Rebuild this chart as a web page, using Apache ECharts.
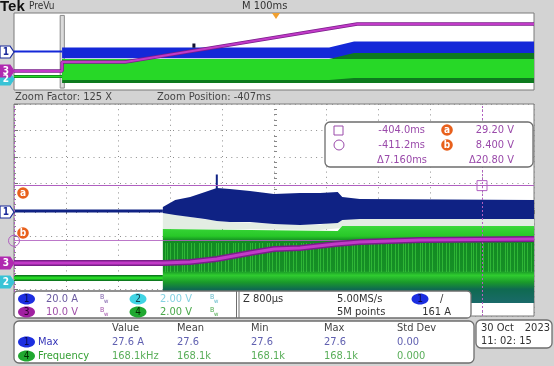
<!DOCTYPE html>
<html><head><meta charset="utf-8">
<script src="https://cdn.jsdelivr.net/npm/echarts@6/dist/echarts.min.js"></script>
<style>html,body{margin:0;padding:0;background:#d3d3d3;}#c{width:554px;height:366px;}</style>
</head><body><div id="c"></div>
<script>
// ---------- vertical scales (units / division) and offsets (divisions) ----------
const ch1Scale = 20, ch3Scale = 10, ch4Scale = 2;
const ovCh1Off = 0, ovCh3Off = -2.026, ovCh4Off = -2.6;
const zmCh1Off = -0.04, zmCh3Off = -2.0, zmCh4Off = -2.566;

// ---------- time ranges (ms) ----------
const ovTime = [-500, 500];        // M 100ms
const zmTime = [-411.2, -403.2];   // Z 800us
const zoomWindow = [-411.2, -403.2];
const triggerTime = 0;

// ---------- overview (PreVu) traces ----------
const ovCh1PreT = [-500, -407.5];
const ovCh1PreA = [0, 0];
const ovCh1BandT = [-407.5, 106, 154, 500];
const ovCh1BandHiA = [8.3, 8.3, 20.8, 20.8];
const ovCh1BandLoA = [-14, -14, -14, -14];
const ovCh1MarkT = [-154, -154];
const ovCh1MarkA = [8, 16.6];

const ovCh4PreT = [-500, -407.5];
const ovCh4PreV = [0, 0];
const ovCh4DarkT = [-407.5, 106, 154, 500];
const ovCh4DarkHiV = [3.64, 3.64, 4.88, 4.88];
const ovCh4DarkLoV = [-1.35, -1.35, -1.35, -1.35];
const ovCh4BrightT = [-407.5, 106, 154, 500];
const ovCh4BrightHiV = [3.64, 3.64, 3.64, 3.64];
const ovCh4BrightLoV = [-0.73, -0.73, -0.31, -0.31];

const ovCh3T = [-500, -407.5, -407.5, -286, 160, 500];
const ovCh3V = [0, 0, 9.4, 9.4, 48.8, 48.8];

// ---------- zoom traces ----------
const zmCh1PreT = [-411.2, -408.91];
const zmCh1PreA = [0, 0];
const zmCh1BandT = [-408.91, -408.72, -408.49, -408.26, -408.08, -407.88, -407.57, -407.20, -406.80, -406.49, -406.22, -406.15, -405.88, -403.2];
const zmCh1BandHiA = [3.0, 8.3, 10.6, 14.3, 17.4, 16.6, 15.1, 12.8, 13.6, 13.6, 14.3, 10.6, 9.1, 8.3];
const zmCh1BandLoA = [-1.5, -3.0, -4.5, -6.0, -7.5, -8.3, -8.3, -9.8, -10.6, -9.8, -9.1, -6.8, -6.0, -6.0];
const zmCh1SpikeT = [-408.08, -408.08];
const zmCh1SpikeA = [15, 27.6];

const zmCh4PreT = [-411.2, -408.91];
const zmCh4PreV = [0, 0];
const zmCh4BandT = [-408.91, -406.22, -406.15, -403.2];
const zmCh4BandHiV = [3.70, 3.55, 3.92, 3.92];
const zmCh4BandLoV = [-1.89, -1.89, -1.89, -1.89];
const zmCh4StripeT = [-408.91, -403.2];
const zmCh4StripeHiV = [2.64, 2.64];
const zmCh4StripeLoV = [0.45, 0.45];
const zmHazeT = [-408.91, -408.3, -407.9, -406.5, -406.15, -403.2];
const zmHazeHiV = [4.98, 4.45, 4.23, 4.0, 4.45, 4.45];
const zmHazeLoV = [3.70, 3.70, 3.70, 3.62, 3.77, 3.77];

const zmCh3T = [-411.2, -408.91, -408.49, -408.08, -407.57, -407.20, -406.80, -406.25, -405.88, -404.95, -403.2];
const zmCh3V = [0, 0, 0.38, 1.5, 3.8, 5.3, 5.7, 7.2, 7.9, 8.7, 9.1];

// ---------- cursors ----------
const cursorTimes = [-404.0, -411.2];   // ms
const cursorLevels = [29.20, 8.40];     // V (ch3)

// ---------- readout texts ----------
const measHeaders = ['Value', 'Mean', 'Min', 'Max', 'Std Dev'];
const measRow1 = ['27.6 A', '27.6', '27.6', '27.6', '0.00'];
const measRow2 = ['168.1kHz', '168.1k', '168.1k', '168.1k', '0.000'];

// ---------- helpers ----------
const F = "'DejaVu Sans Condensed','Liberation Sans Narrow',sans-serif";
const pts = (T, V, s, o) => T.map((t, i) => [t, V[i] / s + o]);

function band(xi, T, lo, hi, s, o, fill, z) {
  const data = T.map((t, i) => [t, lo[i] / s + o, hi[i] / s + o]);
  return {
    type: 'custom', xAxisIndex: xi, yAxisIndex: xi, z, silent: true, clip: true,
    encode: { x: 0, y: [1, 2] }, data,
    renderItem(params, api) {
      if (params.dataIndex !== 0) return null;
      const top = data.map(d => api.coord([d[0], d[2]]));
      const bot = data.map(d => api.coord([d[0], d[1]])).reverse();
      return { type: 'polygon', shape: { points: top.concat(bot) }, style: { fill } };
    }
  };
}
function line(xi, data, color, width, z, extra) {
  return Object.assign({
    type: 'line', xAxisIndex: xi, yAxisIndex: xi, data, showSymbol: false, symbol: 'none',
    silent: true, z, lineStyle: { color, width }, animation: false
  }, extra || {});
}
function txt(x, y, s, fill, size, align, weight) {
  return { type: 'text', z: 100, style: { x, y, text: s, fill, textAlign: align || 'left', textVerticalAlign: 'middle',
    font: (weight ? weight + ' ' : '') + (size || 11) + 'px ' + F } };
}
function tag(y, label, fill, stroke, tcolor) {
  return [
    { type: 'polygon', z: 90, shape: { points: [[0, y - 6], [10, y - 6], [14, y], [10, y + 6], [0, y + 6]] },
      style: { fill, stroke, lineWidth: 1.2 } },
    { type: 'text', z: 91, style: { x: 6, y, text: label, fill: tcolor, textAlign: 'center', textVerticalAlign: 'middle', font: 'bold 10px ' + F } }
  ];
}
function chip(cx, cy, label, fill, tcolor) {
  return [
    { type: 'ellipse', z: 100, shape: { cx, cy, rx: 8.5, ry: 5.5 }, style: { fill } },
    { type: 'text', z: 101, style: { x: cx, y: cy, text: label, fill: tcolor, textAlign: 'center', textVerticalAlign: 'middle', font: '10px ' + F } }
  ];
}
function orange(cx, cy, label) {
  return [
    { type: 'circle', z: 95, shape: { cx, cy, r: 5.8 }, style: { fill: '#e8601c' } },
    { type: 'text', z: 96, style: { x: cx, y: cy, text: label, fill: '#fff', textAlign: 'center', textVerticalAlign: 'middle', font: 'bold 10px ' + F } }
  ];
}
function bw(x, y, color) {
  return [txt(x, y - 2, 'B', color, 7), txt(x + 4, y + 2, 'w', color, 6)];
}
function box(x, y, w, h, r) {
  return { type: 'rect', z: 80, shape: { x, y, width: w, height: h, r: r || 4 }, style: { fill: '#fff', stroke: '#6e6e6e', lineWidth: 1.3 } };
}
// vertical stripe texture for the switching-noise band (style only)
function stripePattern() {
  const c = document.createElement('canvas');
  c.width = 17; c.height = 4;
  const g = c.getContext('2d');
  g.fillStyle = 'rgba(70,215,70,0.55)';
  [0, 4, 7, 12, 14].forEach(x => g.fillRect(x, 0, 1, 4));
  return { image: c, repeat: 'repeat' };
}

const aDiv = cursorLevels[0] / ch3Scale + zmCh3Off;
const bDiv = cursorLevels[1] / ch3Scale + zmCh3Off;

const navy = '#0f2284', blue = '#1428d8', brightG = '#27d827', darkG = '#0d7a1e', mag = '#c23ac8', magDark = '#7a1e8a', cur = '#b060c0';

const greenGrad = new echarts.graphic.LinearGradient(0, 0, 0, 1, [
  { offset: 0, color: '#3ad83a' }, { offset: 0.13, color: '#28c828' }, { offset: 0.19, color: '#128a22' },
  { offset: 0.58, color: '#168f26' }, { offset: 0.64, color: '#2fcc2f' }, { offset: 0.73, color: '#1a9a2a' },
  { offset: 0.82, color: '#0f6a50' }, { offset: 1, color: '#1a6a6a' }]);

const series = [
  // overview
  line(0, pts(ovCh1PreT, ovCh1PreA, ch1Scale, ovCh1Off), blue, 2, 3),
  band(0, ovCh1BandT, ovCh1BandLoA, ovCh1BandHiA, ch1Scale, ovCh1Off, blue, 3),
  band(0, ovCh4DarkT, ovCh4DarkLoV, ovCh4DarkHiV, ch4Scale, ovCh4Off, darkG, 4),
  band(0, ovCh4BrightT, ovCh4BrightLoV, ovCh4BrightHiV, ch4Scale, ovCh4Off, brightG, 5),
  line(0, pts(ovCh4PreT, ovCh4PreV, ch4Scale, ovCh4Off), darkG, 3, 4),
  line(0, pts(ovCh4PreT, ovCh4PreV, ch4Scale, ovCh4Off), brightG, 1.5, 5),
  line(0, pts(ovCh1MarkT, ovCh1MarkA, ch1Scale, ovCh1Off), '#101030', 3, 6),
  line(0, pts(ovCh3T, ovCh3V, ch3Scale, ovCh3Off), magDark, 3.5, 6),
  line(0, pts(ovCh3T, ovCh3V, ch3Scale, ovCh3Off), mag, 2, 7, {
    markArea: { silent: true, itemStyle: { color: 'rgba(190,190,190,0.55)', borderColor: '#8a8a8a', borderWidth: 1 },
      data: [[{ xAxis: zoomWindow[0], yAxis: 3.75 }, { xAxis: zoomWindow[1], yAxis: -3.8 }]] },
    markPoint: { silent: true, animation: false, data: [{ coord: [triggerTime, 4], symbol: 'triangle', symbolRotate: 180,
      symbolSize: [8, 6], symbolOffset: [2, 3], itemStyle: { color: '#f0a030' }, label: { show: false } }] }
  }),
  // zoom
  band(1, zmHazeT, zmHazeLoV, zmHazeHiV, ch4Scale, zmCh4Off, '#e3ede3', 2),
  line(1, pts(zmCh1PreT, zmCh1PreA, ch1Scale, zmCh1Off), navy, 3, 3),
  band(1, zmCh1BandT, zmCh1BandLoA, zmCh1BandHiA, ch1Scale, zmCh1Off, navy, 3),
  line(1, pts(zmCh1SpikeT, zmCh1SpikeA, ch1Scale, zmCh1Off), navy, 2, 3),
  band(1, zmCh4BandT, zmCh4BandLoV, zmCh4BandHiV, ch4Scale, zmCh4Off, greenGrad, 4),
  band(1, zmCh4StripeT, zmCh4StripeLoV, zmCh4StripeHiV, ch4Scale, zmCh4Off, stripePattern(), 4.5),
  line(1, pts(zmCh4PreT, zmCh4PreV, ch4Scale, zmCh4Off), darkG, 6, 4),
  line(1, pts(zmCh4PreT, zmCh4PreV, ch4Scale, zmCh4Off), brightG, 3, 5),
  line(1, pts(zmCh3T, zmCh3V, ch3Scale, zmCh3Off), magDark, 6, 6),
  line(1, pts(zmCh3T, zmCh3V, ch3Scale, zmCh3Off), mag, 3, 7, {
    markLine: { silent: true, symbol: 'none', animation: false, label: { show: false },
      lineStyle: { color: cur, width: 1, type: 'solid' },
      data: [{ yAxis: aDiv }, { yAxis: bDiv, lineStyle: { color: cur, width: 1, opacity: 0.85 } },
        { xAxis: cursorTimes[0], lineStyle: { color: cur, type: [2, 2], width: 1 } },
        { xAxis: cursorTimes[1], lineStyle: { color: cur, type: [2, 2], width: 1 } }] },
    markPoint: { silent: true, animation: false, label: { show: false },
      data: [
        { coord: [cursorTimes[0], aDiv], symbol: 'rect', symbolSize: 10, itemStyle: { color: 'rgba(255,255,255,0)', borderColor: cur, borderWidth: 1 } },
        { coord: [cursorTimes[1], bDiv], symbol: 'circle', symbolSize: 11, itemStyle: { color: 'rgba(255,255,255,0)', borderColor: cur, borderWidth: 1 } }] }
  })
];

const dotX = { type: [1, 4.2], color: '#8e8e8e', width: 1 };
const dotY = { type: [1, 4.3], color: '#8e8e8e', width: 1 };
const hid = { axisLabel: { show: false }, axisLine: { show: false }, axisTick: { show: false }, splitLine: { show: false } };

const graphics = [
  { type: 'text', z: 100, style: { x: 0, y: 7, text: 'Tek', fill: '#111', textVerticalAlign: 'middle', font: 'bold 15px "Liberation Sans"' } },
  txt(29, 6, 'PreVu', '#333', 10),
  txt(242, 6, 'M 100ms', '#333', 11),
  txt(15, 97, 'Zoom Factor: 125 X', '#444', 11),
  txt(157, 97, 'Zoom Position: -407ms', '#444', 11),
  ...tag(79, '2', '#39c3d6', '#39c3d6', '#fff'),
  ...tag(71, '3', '#b02ab0', '#b02ab0', '#fff'),
  ...tag(52, '1', '#fff', '#1a2a9a', '#1a2a9a'),
  ...tag(282, '2', '#39c3d6', '#39c3d6', '#fff'),
  ...tag(263, '3', '#b02ab0', '#b02ab0', '#fff'),
  ...tag(212, '1', '#fff', '#1a2a9a', '#1a2a9a'),
  ...orange(23, 193, 'a'), ...orange(23, 233, 'b'),
  // cursor readout
  box(325, 122, 208, 45, 5),
  { type: 'rect', z: 100, shape: { x: 334, y: 126, width: 9, height: 9 }, style: { fill: 'none', stroke: '#9a4aaa', lineWidth: 1 } },
  { type: 'circle', z: 100, shape: { cx: 339, cy: 145, r: 5 }, style: { fill: 'none', stroke: '#9a4aaa', lineWidth: 1 } },
  txt(425, 130, '-404.0ms', '#9a4aaa', 11, 'right'),
  txt(425, 145, '-411.2ms', '#9a4aaa', 11, 'right'),
  txt(427, 160, '\u03947.160ms', '#9a4aaa', 11, 'right'),
  ...orange(447, 130, 'a'), ...orange(447, 145, 'b'),
  txt(514, 130, '29.20 V', '#9a4aaa', 11, 'right'),
  txt(514, 145, '8.400 V', '#9a4aaa', 11, 'right'),
  txt(514, 160, '\u039420.80 V', '#9a4aaa', 11, 'right'),
  // channel / timebase readout
  box(14, 291, 457, 27, 4),
  { type: 'line', z: 101, shape: { x1: 236.5, y1: 291, x2: 236.5, y2: 318 }, style: { stroke: '#6e6e6e', lineWidth: 1 } },
  { type: 'line', z: 101, shape: { x1: 239, y1: 291, x2: 239, y2: 318 }, style: { stroke: '#6e6e6e', lineWidth: 1 } },
  ...chip(26.5, 299, '1', '#1c2ee0', '#0a0a50'),
  txt(46, 299, '20.0 A', '#6a5aa0', 11), ...bw(100, 299, '#7a5aa8'),
  ...chip(138, 299, '2', '#40d4e4', '#10404c'),
  txt(160, 299, '2.00 V', '#86d2e2', 11), ...bw(210, 299, '#60b8c8'),
  ...chip(26.5, 312, '3', '#a020a0', '#300030'),
  txt(46, 312, '10.0 V', '#a050a8', 11), ...bw(100, 312, '#a050a8'),
  ...chip(138, 312, '4', '#20a830', '#002a00'),
  txt(160, 312, '2.00 V', '#4aa84a', 11), ...bw(210, 312, '#4aa84a'),
  txt(243, 299, 'Z 800\u00b5s', '#333', 11),
  txt(337, 299, '5.00MS/s', '#333', 11),
  txt(337, 312, '5M points', '#333', 11),
  ...chip(420, 299, '1', '#1c2ee0', '#0a0a50'),
  txt(440, 299, '/', '#333', 11),
  txt(451, 312, '161 A', '#333', 11, 'right'),
  // measurements
  box(14, 321, 460, 42, 5),
  ...measHeaders.map((h, i) => txt([112, 177, 251, 324, 397][i], 328, h, '#444', 11)),
  ...chip(26.5, 342, '1', '#1c2ee0', '#0a0a50'),
  txt(38, 342, 'Max', '#3535b8', 11),
  ...measRow1.map((v, i) => txt([112, 177, 251, 324, 397][i], 342, v, '#6060b0', 11)),
  ...chip(26.5, 356, '4', '#20a830', '#002a00'),
  txt(38, 356, 'Frequency', '#35a035', 11),
  ...measRow2.map((v, i) => txt([112, 177, 251, 324, 397][i], 356, v, '#5aae5a', 11)),
  // date
  box(476, 320, 76, 28, 5),
  txt(481, 328, '30 Oct', '#333', 11),
  txt(550, 328, '2023', '#333', 11, 'right'),
  txt(481, 341, '11: 02: 15', '#333', 11)
];

const chart = echarts.init(document.getElementById('c'), null, { renderer: 'canvas' });
chart.setOption({
  animation: false,
  backgroundColor: '#d3d3d3',
  grid: [
    { left: 14, top: 13, width: 520, height: 77, show: true, backgroundColor: '#fff', borderColor: '#7a7a7a', borderWidth: 1 },
    { left: 14, top: 104, width: 520, height: 212, show: true, backgroundColor: '#fff', borderColor: '#7a7a7a', borderWidth: 1 }
  ],
  xAxis: [
    Object.assign({ type: 'value', gridIndex: 0, min: ovTime[0], max: ovTime[1], interval: 100 }, hid),
    { type: 'value', gridIndex: 1, min: zmTime[0], max: zmTime[1], interval: 0.8, position: 'top',
      axisLabel: { show: false }, axisLine: { show: false },
      axisTick: { show: true, inside: true, length: 4, lineStyle: { color: '#777' } },
      minorTick: { show: true, splitNumber: 5, length: 2, lineStyle: { color: '#888' } },
      splitLine: { show: true, lineStyle: dotX } },
    { type: 'value', gridIndex: 1, min: zmTime[0], max: zmTime[1], interval: 0.8,
      axisLabel: { show: false }, axisLine: { show: false, onZero: true, onZeroAxisIndex: 1 },
      axisTick: { show: false }, splitLine: { show: false },
      minorTick: { show: true, splitNumber: 5, length: 3, lineStyle: { color: '#888' } } }
  ],
  yAxis: [
    Object.assign({ type: 'value', gridIndex: 0, min: -4, max: 4, interval: 1 }, hid),
    { type: 'value', gridIndex: 1, min: -4, max: 4, interval: 1,
      axisLabel: { show: false }, axisLine: { show: false },
      axisTick: { show: true, inside: true, length: 4, lineStyle: { color: '#777' } },
      minorTick: { show: true, splitNumber: 5, length: 2, lineStyle: { color: '#888' } },
      splitLine: { show: true, lineStyle: dotY } },
    { type: 'value', gridIndex: 1, min: -4, max: 4, interval: 1, offset: -260,
      axisLabel: { show: false }, axisLine: { show: false }, axisTick: { show: false }, splitLine: { show: false },
      minorTick: { show: true, splitNumber: 5, length: 3, lineStyle: { color: '#888' } } }
  ],
  series,
  graphic: graphics
});
</script></body></html>
